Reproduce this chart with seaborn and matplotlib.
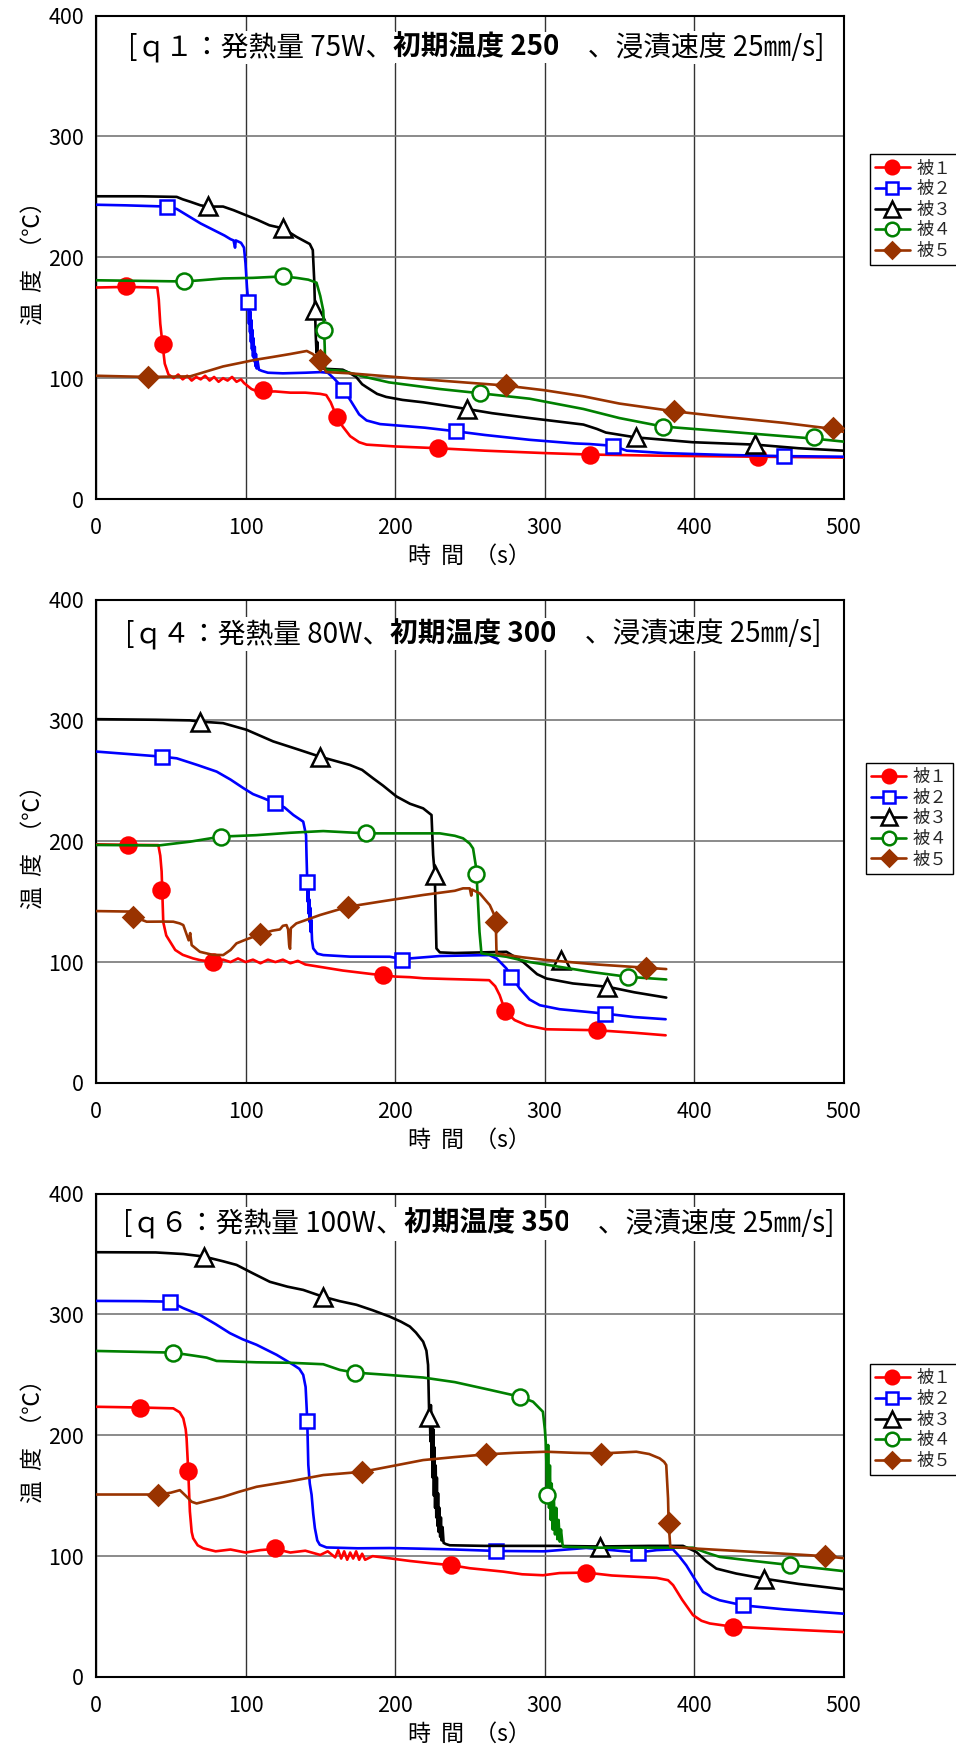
import matplotlib
matplotlib.use("Agg")
import matplotlib.pyplot as plt
import pandas as pd
import seaborn as sns
from matplotlib.lines import Line2D

# ---------------- data: (time s, temperature °C) ----------------
series_labels = ["被１", "被２", "被３", "被４", "被５"]
x_ticks = [0, 100, 200, 300, 400, 500]
y_ticks = [0, 100, 200, 300, 400]

# q1 : 75 W, initial 250
q1_s1_line = [(0,175),(20,175.5),(41,175),(42,165),(43,145),(44.5,128),(46,112),(48.5,103),(52,100),(55,103),(58,99),(61,102),(64,98),(67,101),(70,99),(73,102),(76,98),(79,101),(82,97),(85,100),(88,98),(91,101),(94,97),(97,99),(99,96),(101,94),(104,91),(108,89),(112,89),(120,89),(130,88),(140,88),(150,87),(154,86),(157,80),(159,74),(161,68),(165,60),(170,52),(176,47),(181,45),(200,43.5),(229,42),(260,40),(300,38),(330,36.8),(380,35.8),(443,35),(500,34.3)]
q1_s1_marks = [(20,176),(44.5,128),(112,90),(161.5,68),(229,42.5),(330.5,36.5),(443,35)]
q1_s2_line = [(0,243.5),(20,243),(47.5,242),(54,240),(62,234),(70,228),(78,223),(86,218),(90,215),(92,214),(93,208),(93.5,214),(97,212),(99,208),(100,195),(101,175),(101.5,168),(102,160),(102.3,145),(102.6,162),(103,138),(103.3,155),(103.6,130),(104,148),(104.3,124),(104.6,140),(105,118),(105.4,133),(105.8,114),(106.2,126),(106.6,110),(107,120),(107.5,108),(108,115),(109,107),(111,106),(115,104.5),(125,104),(140,104.5),(150,105),(155,104.5),(159,100),(162,96),(165.5,90.5),(170,82),(176,70),(181,65),(190,62),(200,61),(220,59),(241,56),(260,53),(290,49),(320,46),(330,45.5),(346,44),(355,40),(380,38),(420,36.5),(460,35.5),(500,35)]
q1_s2_marks = [(47.5,242),(102,163),(165.5,90.5),(241,56),(346,44),(460,35.5)]
q1_s3_line = [(0,250.5),(30,250.5),(54,250),(58,248),(63,246),(70,243),(75,242),(85,242),(92,239),(100,235),(108,231),(116,226.5),(125,224),(134,217),(140,213),(143,211),(145,206),(146,180),(146.5,156),(147,135),(147.5,121),(148,130),(148.5,112),(149.7,108),(157,107.5),(165,107),(170,104),(174,101),(178,95),(181,92.5),(188,87),(194,84.5),(205,82),(219,80),(235,77),(248,74.5),(265,71),(290,67),(326,61.6),(335,58),(341,55),(361,51),(380,49),(399,47),(420,46),(441,45),(470,42),(500,40)]
q1_s3_marks = [(75,242.5),(125,224.5),(146.6,156),(248,74.5),(361,51),(441,45.5)]
q1_s4_line = [(0,181),(30,180.5),(59,180),(70,181),(85,182.5),(105,183),(125,184.2),(134,183),(142,181.5),(147.5,179),(150,168),(152,156),(152.6,140),(153,125),(153.3,107),(160,106.5),(165,106),(180,101),(196,96.5),(230,91),(257,87.5),(290,83),(326,74.5),(350,67),(379,60),(420,56),(480,50),(500,47.5)]
q1_s4_marks = [(59,180),(125,184.2),(152.6,140),(257,87.5),(379,60),(480,51)]
q1_s5_line = [(0,102),(35,101),(63,101.5),(85,109.7),(107,115.3),(118,117.5),(130,120),(141,122.5),(145,120),(149.7,114.6),(154,105),(170,104),(196,101.4),(230,98),(273,94),(300,90),(326,85),(350,79),(386.6,72.6),(420,68),(460,63),(493,58),(500,55.5)]
q1_s5_marks = [(35,101),(149.7,115),(274,94),(386.6,73),(493,58.5)]

# q4 : 80 W, initial 300
q4_s1_line = [(0,197.4),(21,197),(41.7,196.8),(43,188),(43.9,175),(44.3,160),(45,133),(47,122),(49.5,117),(53,110),(58,106),(65,103),(70,101.5),(78,100.3),(85,102),(90,100),(95,103),(100,100),(105,102),(110,99),(115,102),(120,100),(125,102),(130,99),(135,101),(140,98),(145,97),(150,96),(156,94.8),(165,93),(175,91.5),(185,90),(192,89.3),(200,88),(210,87.5),(219,86.6),(235,86),(250,85.5),(263,85),(267,80),(270,72.6),(273.8,59),(280,52),(288,47.7),(301,44.4),(335,43.6),(360,41.5),(381,39.4)]
q4_s1_marks = [(21.2,197),(43.5,159.6),(78.4,100.3),(192,89.3),(273.8,59.5),(335,43.6)]
q4_s2_line = [(0,274.2),(44,270),(54,268.6),(68,263),(80.7,257.6),(90,251),(98.5,244),(105,239),(112,235.6),(120,231.4),(126,228),(132,221.7),(138.6,216.2),(140.5,205),(140.8,188.6),(141.3,166),(141.6,150),(142,160),(142.3,140),(142.6,152),(143,133),(143.3,145),(143.6,125),(144,135),(144.5,118),(145.3,111.3),(148,107),(152,105.8),(170,104.5),(196.5,104.4),(204.5,102.5),(230,105),(250,105.5),(263,105.8),(268,103),(274.5,94.7),(278,87.8),(283.4,78.1),(290,69),(296.8,64.3),(310,61),(340,57.4),(360,54.5),(381,52.7)]
q4_s2_marks = [(44.3,270),(119.9,231.4),(141.3,166),(204.5,101.7),(277.9,87.8),(340.2,57.4)]
q4_s3_line = [(0,301),(40,300.5),(62.8,300),(69.5,299),(85,297.7),(100.7,292.2),(118.5,282.6),(135,276),(149.7,270),(169.8,263.1),(178,259),(185.4,252),(192,246),(201,237),(210,231),(218.8,227.2),(224.4,221.7),(225.5,188.6),(226.6,172),(227.7,111.3),(230,108),(240,107.5),(274.5,108.5),(285.6,100.2),(295,90),(301.2,86.4),(319,82.3),(342.4,79.5),(360,75),(381.4,70.6)]
q4_s3_marks = [(69.5,299),(149.7,270),(226.6,172),(311.3,101.6),(342,79.5)]
q4_s4_line = [(0,196.9),(42,196.5),(62.8,199.6),(83.5,203.8),(107,205),(130,207),(152,208.4),(180.9,206.5),(230,206.5),(240,204.5),(245.5,202.4),(250,198),(252.2,194),(254,180),(254.5,172.6),(255.6,147),(256.5,125),(257.8,107.2),(274.5,104.4),(290,100),(303.5,97.4),(330,92),(355.6,87.8),(381.4,85.6)]
q4_s4_marks = [(83.5,203.8),(180.9,206.5),(254,172.6),(355.6,87.8)]
q4_s5_line = [(0,142.2),(22,141.8),(25,137.5),(33.9,133.4),(45,133.5),(51.7,133.4),(56,132),(58.4,130.6),(62,118),(63,124),(64,114),(69.5,108.5),(78,106),(85.1,105.8),(90,110),(94,115.5),(100,118.5),(109.6,122.9),(118,126),(123,127),(125,130),(127.4,130.6),(128.5,127),(129.2,114),(129.8,111),(130.3,128),(134,132),(150,139),(168.7,145.8),(190,150),(218.8,155.5),(240,159),(245.5,161),(250,161),(251,155),(251.5,160),(256.7,156.8),(260,152),(263.4,147.1),(266,140),(267.4,133.4),(267.8,111.3),(268,107.2),(285,104),(301.2,101.7),(335,98),(368,95.3),(381.4,94.2)]
q4_s5_marks = [(25,137.4),(109.6,122.9),(168.7,145.8),(267.4,133.4),(368,95.3)]

# q6 : 100 W, initial 350
q6_s1_line = [(0,223.6),(29.4,223),(51.7,222.3),(56,219),(58.4,214),(60,205),(60.6,197.4),(61.7,170.4),(62.8,137),(64,120),(65,114.8),(68,109),(71.7,106.5),(80,104),(90,105.5),(100,103),(110,105),(119.6,106),(130,103),(140,104.5),(150,101),(155,104),(160,99),(162,105),(164,98),(166,104),(168,97),(170,103),(172,98),(174,104),(176,97),(178,102),(180,97),(185,100),(196.5,98.2),(210,96),(225,94),(237.7,92.5),(250,90),(262,88.5),(272.3,87.2),(285,85),(299,84.2),(310,86),(328,86.4),(345,84),(360,83),(375,82),(382.6,80.1),(386,76),(392,64),(399.3,51.2),(405,46.5),(410.5,44.3),(426,41.6),(460,39.5),(500,37.2)]
q6_s1_marks = [(29.4,222.8),(61.7,170.4),(119.6,106.5),(237.7,92.5),(328,86.4),(426.1,41.6)]
q6_s2_line = [(0,311.2),(30,311),(49.5,310.6),(58.4,305.2),(69.5,299.6),(80,292),(89.6,284.5),(98,279.5),(107.4,274.9),(120.8,266.6),(132,258.3),(136,255),(138.6,250),(140.2,240),(140.8,225.2),(141.3,212),(142,175.6),(143,160),(144.2,150.8),(145.3,135),(146.4,123.2),(148,113),(149.7,109.4),(154.2,107.2),(175,106.5),(196.5,106.7),(216.6,106.2),(240,105.5),(267.8,104.3),(300,104),(327.8,106.8),(345,105),(362.5,103),(375,105),(385.9,105.6),(390,100),(394.8,92.4),(400,82),(406,70.4),(412,66),(417.1,63.5),(432.7,59.3),(460,56),(500,52.4)]
q6_s2_marks = [(49.5,310.6),(141.3,212),(267.8,104.3),(362.5,103),(432.7,59.3)]
q6_s3_line = [(0,351.5),(40,351.3),(58.4,350),(72.2,347.9),(85,344),(94,341),(105,334),(116.3,327),(128,323),(138.6,320.3),(151.5,314.8),(163,311),(174.2,308),(185,303.5),(196.5,298.2),(204,294),(209.9,290),(214,285),(218.8,277.5),(221,270),(222.1,258.2),(222.8,219.5),(223.3,215),(223.7,195),(224,225),(224.4,180),(224.8,215),(225.2,165),(225.6,205),(226,150),(226.4,190),(226.8,140),(227.2,175),(227.6,132),(228,165),(228.4,125),(228.8,152),(229.2,120),(229.7,140),(230.2,116),(230.7,132),(231.2,113),(231.8,124),(232.5,111),(234,110),(236.6,109),(260,108.5),(305.7,108.5),(337,108),(370,108.5),(392.6,108.5),(401.5,103.5),(408,96),(414.9,89.7),(428.2,85.6),(446.7,81.4),(470,77),(500,72.6)]
q6_s3_marks = [(72.2,347.9),(151.5,314.8),(223,215),(337,107.7),(446.7,81.4)]
q6_s4_line = [(0,269.8),(30,269),(51.7,268.4),(65,266),(74,264.3),(80.7,261.5),(107.4,260.4),(130,260),(152,258.8),(163.1,254.1),(173.1,251.9),(195,250),(218.8,247.8),(240,244),(263.4,237.6),(283.4,232),(292.3,227.8),(298.9,219.5),(300.2,205),(300.8,194.7),(301.4,170),(301.9,150.7),(302.4,192),(303,140),(303.6,175),(304.2,130),(304.8,160),(305.5,122),(306.2,150),(307,118),(307.8,140),(308.6,114),(309.4,130),(310.2,112),(311,122),(312,110),(312.5,107.8),(320,107.5),(337,107),(370,107),(399.3,107),(408,103),(417.1,99.4),(440,96),(464.5,92.6),(500,87.6)]
q6_s4_marks = [(51.7,268.4),(173.1,251.9),(283.4,232),(301.9,150.7),(464.5,92.6)]
q6_s5_line = [(0,151),(20,151),(41.7,151),(50,152.5),(56.1,154.6),(60,150),(64,145),(67.3,143.6),(75,146),(85.1,149.1),(95,153),(107.4,157.4),(130,162),(152,167.1),(178.2,169.8),(200,175),(218.8,179.5),(240,182),(260.6,184.2),(280,185.5),(301,186.4),(320,185.5),(338,185),(361.4,186.4),(370,184.5),(377,180.9),(380,178),(381.4,175.4),(382.6,147.8),(383,127.1),(384.1,107.8),(399.3,106.4),(440,103.5),(487.3,100),(500,98.3)]
q6_s5_marks = [(41.7,151),(178.2,169.8),(260.6,184.2),(338,184.2),(383,127.1),(487.3,100)]

q1_title = ["[ｑ１：発熱量 75W、", "初期温度 250", "　、浸漬速度 25㎜/s]"]
q4_title = ["[ｑ４：発熱量 80W、", "初期温度 300", "　、浸漬速度 25㎜/s]"]
q6_title = ["[ｑ６：発熱量 100W、", "初期温度 350", "　、浸漬速度 25㎜/s]"]

# ---------------- styling ----------------
sns.set_theme(style="white")
plt.rcParams["font.family"] = ["Noto Sans CJK JP", "DejaVu Sans"]

colors = ["#FF0000", "#0000FF", "#000000", "#008000", "#993300"]
markers = ["o", "s", "^", "o", "D"]
faces = ["#FF0000", "white", "white", "white", "#993300"]
msizes = [11.5, 10.5, 13.5, 11.5, 10]
LW = 1.9
MEW = 1.8

panels = [
    dict(rect=[0.1004, 0.7155, 0.782, 0.2756], title=q1_title, tx=0.043, ty=0.934,
         lines=[q1_s1_line, q1_s2_line, q1_s3_line, q1_s4_line, q1_s5_line],
         marks=[q1_s1_marks, q1_s2_marks, q1_s3_marks, q1_s4_marks, q1_s5_marks],
         leg=(1.035, 0.713)),
    dict(rect=[0.1004, 0.3826, 0.782, 0.2756], title=q4_title, tx=0.039, ty=0.928,
         lines=[q4_s1_line, q4_s2_line, q4_s3_line, q4_s4_line, q4_s5_line],
         marks=[q4_s1_marks, q4_s2_marks, q4_s3_marks, q4_s4_marks, q4_s5_marks],
         leg=(1.03, 0.662)),
    dict(rect=[0.1004, 0.0439, 0.782, 0.2756], title=q6_title, tx=0.036, ty=0.938,
         lines=[q6_s1_line, q6_s2_line, q6_s3_line, q6_s4_line, q6_s5_line],
         marks=[q6_s1_marks, q6_s2_marks, q6_s3_marks, q6_s4_marks, q6_s5_marks],
         leg=(1.035, 0.647)),
]

fig = plt.figure(figsize=(9.56, 17.54), dpi=100)
fig.patch.set_facecolor("white")

for p in panels:
    ax = fig.add_axes(p["rect"])
    ax.set_facecolor("white")
    for i in range(5):
        df = pd.DataFrame(p["lines"][i], columns=["t", "T"])
        sns.lineplot(data=df, x="t", y="T", ax=ax, color=colors[i], lw=LW,
                     sort=False, estimator=None, zorder=3 + i)
        mk = pd.DataFrame(p["marks"][i], columns=["t", "T"])
        ax.plot(mk["t"], mk["T"], linestyle="none", marker=markers[i],
                markersize=msizes[i], markerfacecolor=faces[i],
                markeredgecolor=colors[i], markeredgewidth=MEW,
                zorder=3.5 + i, clip_on=False)

    ax.set_xlim(0, 500)
    ax.set_ylim(0, 400)
    ax.set_xticks(x_ticks)
    ax.set_yticks(y_ticks)
    ax.xaxis.grid(True, color="#333333", lw=1.0)
    ax.yaxis.grid(True, color="#777777", lw=1.2)
    ax.set_axisbelow(True)
    for sp in ax.spines.values():
        sp.set_color("black")
        sp.set_linewidth(1.5)
    ax.tick_params(axis="both", length=0, labelsize=15.5, colors="black")
    ax.tick_params(axis="x", pad=13)
    ax.tick_params(axis="y", pad=8.5)
    ax.set_xlabel("時  間  （s）", fontsize=16.5, labelpad=4, color="black")
    ax.set_ylabel("温  度  （℃）", fontsize=16.5, labelpad=3, color="black")

    # title inside the plotting area, middle part in bold
    box = dict(facecolor="white", edgecolor="none", pad=1.5)
    t1 = ax.text(p["tx"], p["ty"], p["title"][0], transform=ax.transAxes,
                 ha="left", va="center", fontsize=20, color="black",
                 bbox=box, zorder=20)
    t2 = ax.annotate(p["title"][1], xy=(1, 0.5), xycoords=t1, ha="left",
                     va="center", fontsize=20, fontweight="bold", color="black",
                     bbox=box, zorder=20)
    ax.annotate(p["title"][2], xy=(1, 0.5), xycoords=t2, ha="left",
                va="center", fontsize=20, color="black", bbox=box, zorder=20)

    handles = [Line2D([], [], color=colors[i], lw=LW, marker=markers[i],
                      markersize=msizes[i] * 0.85, markerfacecolor=faces[i],
                      markeredgecolor=colors[i], markeredgewidth=MEW)
               for i in range(5)]
    leg = ax.legend(handles, series_labels, loc="upper left",
                    bbox_to_anchor=p["leg"], borderaxespad=0, frameon=True,
                    fancybox=False, framealpha=1, edgecolor="black",
                    fontsize=12.5, handlelength=2.0, handletextpad=0.4,
                    labelspacing=0.15, borderpad=0.3)
    leg.get_frame().set_linewidth(1.0)

fig.savefig("out.png", dpi=100, facecolor="white")
